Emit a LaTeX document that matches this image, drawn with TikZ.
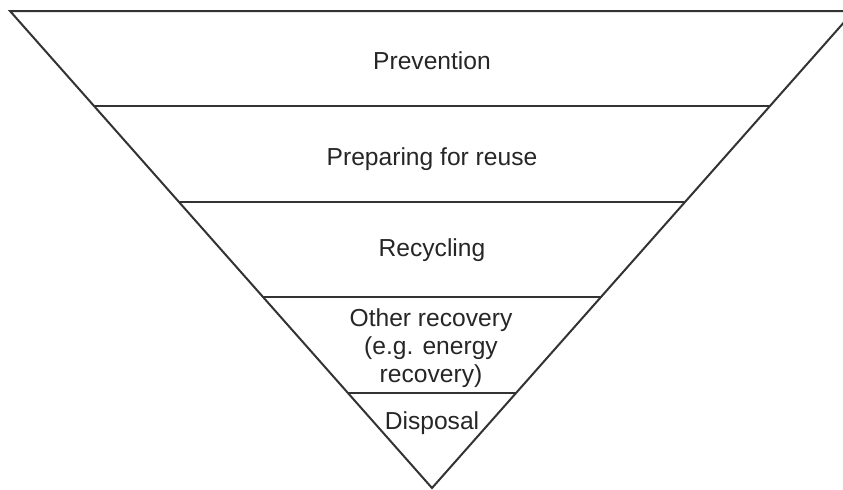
\documentclass[tikz,border=0pt]{standalone}
\usepackage{fontspec}
\setmainfont{Liberation Sans}
\begin{document}
\begin{tikzpicture}
	[	x=0.5pt,y=-0.5pt,
	edge/.style={draw=black!80,line width=1pt},
	tier/.style={draw=none,fill=none,align=center,font=\fontsize{12.3}{14}\selectfont,text=black!85}
	]
	\clip (0,0) rectangle (843,489);
	\coordinate (tl) at (10,11);
	\coordinate (tr) at (854,11);
	\coordinate (apex) at (432,488);
	\coordinate (l1) at (94,106);  \coordinate (r1) at (770,106);
	\coordinate (l2) at (179,202); \coordinate (r2) at (685,202);
	\coordinate (l3) at (263,297); \coordinate (r3) at (601,297);
	\coordinate (l4) at (348,393); \coordinate (r4) at (516,393);

	\draw[edge,line join=miter] (tr) -- (tl) -- (apex) -- cycle;
	\draw[edge] (l1) -- (r1);
	\draw[edge] (l2) -- (r2);
	\draw[edge] (l3) -- (r3);
	\draw[edge] (l4) -- (r4);

	\node[tier] (prevention) at (432,61){Prevention};
	\node[tier] (reuse) at (432,159){Preparing for reuse};
	\node[tier] (recycling) at (432,250){Recycling};
	\node[tier] (recovery) at (431,348){Other recovery\\(e.g. energy\\recovery)};
	\node[tier] (disposal) at (432,423){Disposal};
\end{tikzpicture}
\end{document}
